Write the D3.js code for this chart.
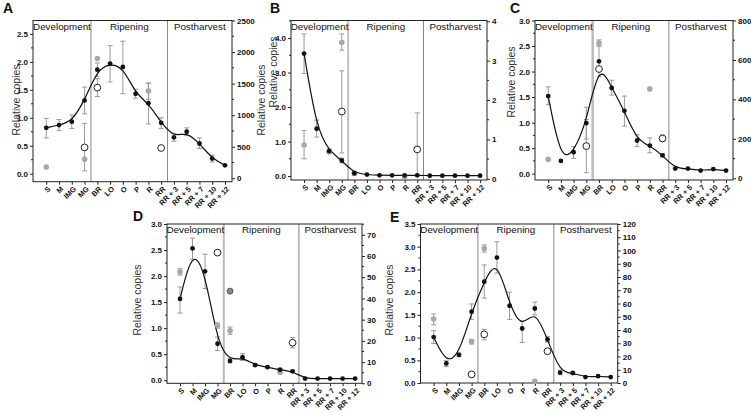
<!DOCTYPE html>
<html><head><meta charset="utf-8">
<script src="https://cdn.jsdelivr.net/npm/d3@7"></script>
<style>body{margin:0;background:#fff}svg{display:block}text{font-family:"Liberation Sans",Arial,sans-serif}</style>
</head><body><svg id="c" width="751" height="413"></svg>
<script>
const _ = null;
const categories = ["S","M","IMG","MG","BR","LO","O","P","R","RR","RR + 3","RR + 5","RR + 7","RR + 10","RR + 12"];
const sections = ["Development","Ripening","Postharvest"];

// Panel A
const aBlack   = [0.82,0.87,0.93,1.31,1.86,1.97,1.91,1.43,1.26,0.91,0.65,0.75,0.54,0.27,0.15];
const aBlackLo = [0.64,0.77,0.81,1.07,1.74,1.64,1.43,1.35,0.89,0.81,0.58,0.68,0.45,0.21,_];
const aBlackHi = [0.99,0.97,1.05,1.55,1.98,2.29,2.37,1.51,1.62,1.00,0.72,0.82,0.64,0.33,_];
const aGray    = [0.12,_,_,0.26,2.06,_,_,_,1.48,_,_,_,_,_,_];
const aGrayLo  = [_,_,_,_,_,_,_,_,1.33,_,_,_,_,_,_];
const aGrayHi  = [_,_,_,_,_,_,_,_,1.62,_,_,_,_,_,_];
const aOpen    = [_,_,_,0.47,1.54,_,_,_,_,0.46,_,_,_,_,_];
const aOpenLo  = [_,_,_,0.05,1.38,_,_,_,_,_,_,_,_,_,_];
const aOpenHi  = [_,_,_,0.90,1.70,_,_,_,_,_,_,_,_,_,_];

// Panel B
const bBlack   = [3.55,1.37,0.72,0.45,0.08,0.04,0.02,0.02,0.02,0.02,0.01,0.01,0.01,0.01,0.01];
const bBlackLo = [2.97,1.13,0.66,0.38,_,_,_,_,_,_,_,_,_,_,_];
const bBlackHi = [4.12,1.62,0.78,0.52,_,_,_,_,_,_,_,_,_,_,_];
const bGray    = [0.90,_,0.70,3.87,0.08,_,_,_,-0.02,_,_,_,_,_,_];
const bGrayLo  = [0.50,_,_,3.65,0.02,_,_,_,-0.07,_,_,_,_,_,_];
const bGrayHi  = [1.32,_,_,4.12,0.14,_,_,_,0.03,_,_,_,_,_,_];
const bOpen    = [_,_,_,1.87,_,_,_,_,_,0.77,_,_,_,_,_];
const bOpenLo  = [_,_,_,0.67,_,_,_,_,_,0.00,_,_,_,_,_];
const bOpenHi  = [_,_,_,3.05,_,_,_,_,_,1.83,_,_,_,_,_];

// Panel C
const cBlack   = [1.52,0.25,0.42,0.99,2.20,1.68,1.23,0.65,0.55,0.36,0.10,0.10,0.06,0.09,0.06];
const cBlackLo = [1.35,_,0.30,0.68,1.90,1.54,0.93,0.53,0.41,0.33,_,_,_,_,_];
const cBlackHi = [1.70,_,0.53,1.30,2.50,1.83,1.52,0.76,0.70,0.39,_,_,_,_,_];
const cGray    = [0.28,_,_,_,2.56,_,_,_,1.66,_,_,_,_,_,_];
const cGrayLo  = [_,_,_,_,2.50,_,_,_,_,_,_,_,_,_,_];
const cGrayHi  = [_,_,_,_,2.62,_,_,_,_,_,_,_,_,_,_];
const cOpen    = [_,_,_,0.54,2.05,_,_,_,_,0.69,_,_,_,_,_];
const cOpenLo  = [_,_,_,0.02,_,_,_,_,_,0.63,_,_,_,_,_];
const cOpenHi  = [_,_,_,1.06,_,_,_,_,_,0.76,_,_,_,_,_];

// Panel D
const dBlack   = [1.56,2.53,2.09,0.70,0.37,0.44,0.29,0.25,0.20,0.17,0.03,0.03,0.03,0.03,0.03];
const dBlackLo = [1.29,2.32,1.76,0.57,0.33,0.38,0.26,0.23,0.18,0.15,_,_,_,_,_];
const dBlackHi = [1.79,2.73,2.42,0.83,0.41,0.51,0.32,0.27,0.22,0.19,_,_,_,_,_];
const dGray    = [2.08,_,_,1.05,0.95,_,_,_,0.15,_,_,_,_,_,_];
const dGrayLo  = [2.02,_,_,1.00,0.88,_,_,_,0.12,_,_,_,_,_,_];
const dGrayHi  = [2.14,_,_,1.10,1.02,_,_,_,0.18,_,_,_,_,_,_];
const dDark    = [_,_,_,_,1.71,_,_,_,_,_,_,_,_,_,_];
const dOpen    = [_,_,_,2.45,_,_,_,_,_,0.72,_,_,_,_,_];
const dOpenLo  = [_,_,_,_,_,_,_,_,_,0.62,_,_,_,_,_];
const dOpenHi  = [_,_,_,_,_,_,_,_,_,0.82,_,_,_,_,_];

// Panel E
const eBlack   = [1.01,0.43,0.62,1.57,2.23,2.76,1.70,1.20,1.64,0.96,0.23,0.22,0.13,0.15,0.13];
const eBlackLo = [0.87,0.36,0.58,1.40,1.87,2.42,1.40,0.89,1.50,0.90,0.18,0.19,_,_,_];
const eBlackHi = [1.15,0.49,0.66,1.74,2.60,3.11,2.00,1.36,1.78,1.02,0.28,0.25,_,_,_];
const eGray    = [1.41,_,_,0.91,2.96,_,_,_,0.04,_,_,_,_,_,_];
const eGrayLo  = [1.28,_,_,0.86,2.88,_,_,_,_,_,_,_,_,_,_];
const eGrayHi  = [1.52,_,_,0.96,3.04,_,_,_,_,_,_,_,_,_,_];
const eOpen    = [_,_,_,0.19,1.07,_,_,_,_,0.70,_,_,_,_,_];
const eOpenLo  = [_,_,_,_,0.95,_,_,_,_,_,_,_,_,_,_];
const eOpenHi  = [_,_,_,_,1.18,_,_,_,_,_,_,_,_,_,_];

// tick definitions
const aLeftTicks = [0,0.5,1,1.5,2,2.5], aRightTicks = [0,500,1000,1500,2000,2500];
const bLeftTicks = [0,1,2,3,4], bRightTicks = [0,1,2,3,4];
const cLeftTicks = [0,0.5,1,1.5,2,2.5,3], cRightTicks = [0,200,400,600,800];
const dLeftTicks = [0,0.5,1,1.5,2,2.5,3], dRightTicks = [0,10,20,30,40,50,60,70];
const eLeftTicks = [0,0.5,1,1.5,2,2.5,3,3.5], eRightTicks = [0,10,20,30,40,50,60,70,80,90,100,110,120];

const panels = [
  {key:"A", black:aBlack, bLo:aBlackLo, bHi:aBlackHi, gray:aGray, gLo:aGrayLo, gHi:aGrayHi, open:aOpen, oLo:aOpenLo, oHi:aOpenHi,
   lt:aLeftTicks, rt:aRightTicks, lMinor:0.25, rMinor:250, lfmt:".1f", rfmt:"d",
   box:{l:33,r:232,t:20.5,b:181.7}, yL:[-0.143,2.74], yR:[-54,2500], div:{w:1,c:"#888",w1:1,c1:"#888"},
   letter:[3,13], titles:[[16,100],[261,100]]},
  {key:"B", black:bBlack, bLo:bBlackLo, bHi:bBlackHi, gray:bGray, gLo:bGrayLo, gHi:bGrayHi, open:bOpen, oLo:bOpenLo, oHi:bOpenHi,
   lt:bLeftTicks, rt:bRightTicks, lMinor:0.5, rMinor:0.5, lfmt:".1f", rfmt:"d",
   box:{l:291,r:487,t:20.5,b:180}, yL:[-0.116,4.51], yR:[-0.03,4.02], div:{w:1,c:"#888",w1:1,c1:"#888"},
   letter:[270,13], titles:[[273,72]]},
  {key:"C", black:cBlack, bLo:cBlackLo, bHi:cBlackHi, gray:cGray, gLo:cGrayLo, gHi:cGrayHi, open:cOpen, oLo:cOpenLo, oHi:cOpenHi,
   lt:cLeftTicks, rt:cRightTicks, lMinor:0.25, rMinor:100, lfmt:".1f", rfmt:"d",
   box:{l:535,r:733,t:20.5,b:180}, yL:[-0.124,3.0], yR:[-8.6,800], div:{w:2.5,c:"#bbb",w1:1,c1:"#888"},
   letter:[510,13], titles:[[511,82]]},
  {key:"D", black:dBlack, bLo:dBlackLo, bHi:dBlackHi, gray:dGray, gLo:dGrayLo, gHi:dGrayHi, open:dOpen, oLo:dOpenLo, oHi:dOpenHi, dark:dDark,
   lt:dLeftTicks, rt:dRightTicks, lMinor:0.25, rMinor:5, lfmt:".1f", rfmt:"d",
   box:{l:167,r:362,t:224,b:383.3}, yL:[-0.06,3.0], yR:[0,75.1], div:{w:2,c:"#bbb",w1:2,c1:"#bbb"},
   letter:[133,221], titles:[[137,300]]},
  {key:"E", black:eBlack, bLo:eBlackLo, bHi:eBlackHi, gray:eGray, gLo:eGrayLo, gHi:eGrayHi, open:eOpen, oLo:eOpenLo, oHi:eOpenHi,
   lt:eLeftTicks, rt:eRightTicks, lMinor:0.25, rMinor:5, lfmt:".1f", rfmt:"d",
   box:{l:420.5,r:617.7,t:224,b:383}, yL:[0,3.5], yR:[0,120], div:{w:1,c:"#888",w1:1,c1:"#888"},
   letter:[390,222], titles:[[389,300]]}
];

const svg = d3.select("#c");
const idx = d3.range(categories.length);

function drawPanel(p){
  const B = p.box;
  const g = svg.append("g");
  const x = d3.scaleLinear().domain([-1.04,14.55]).range([B.l,B.r]);
  const yL = d3.scaleLinear().domain(p.yL).range([B.b,B.t]);
  const yR = d3.scaleLinear().domain(p.yR).range([B.b,B.t]);

  [[3.5,p.div.w,p.div.c],[9.5,p.div.w1,p.div.c1]].forEach(([v,w,c])=>{
    g.append("line").attr("x1",x(v)).attr("x2",x(v)).attr("y1",B.t).attr("y2",B.b)
     .attr("stroke",c).attr("stroke-width",w);
  });
  const bounds = [-1.04,3.5,9.5,14.55];
  sections.forEach((s,i)=>{
    g.append("text").attr("x",(x(bounds[i])+x(bounds[i+1]))/2).attr("y",B.t+9)
     .attr("text-anchor","middle").attr("font-size",9.8).attr("fill","#111").text(s);
  });

  g.append("rect").attr("x",B.l).attr("y",B.t).attr("width",B.r-B.l).attr("height",B.b-B.t)
   .attr("fill","none").attr("stroke","#222").attr("stroke-width",1);

  const lMinorTicks = d3.range(p.yL[0]<0?0:p.yL[0], p.yL[1]+1e-9, p.lMinor).filter(v=>!p.lt.some(t=>Math.abs(t-v)<1e-6) && v<=p.yL[1]);
  const la = d3.axisLeft(yL).tickValues(p.lt).tickFormat(d3.format(p.lfmt)).tickSize(3).tickPadding(2);
  const lg = g.append("g").attr("transform",`translate(${B.l},0)`).call(la);
  lMinorTicks.forEach(v=>lg.append("line").attr("x1",-2).attr("x2",0).attr("y1",yL(v)).attr("y2",yL(v)).attr("stroke","#222"));
  const rMinorTicks = d3.range(0, p.yR[1]+1e-9, p.rMinor).filter(v=>!p.rt.some(t=>Math.abs(t-v)<1e-6));
  const ra = d3.axisRight(yR).tickValues(p.rt).tickFormat(d3.format(p.rfmt)).tickSize(3).tickPadding(2);
  const rg = g.append("g").attr("transform",`translate(${B.r},0)`).call(ra);
  rMinorTicks.forEach(v=>rg.append("line").attr("x1",0).attr("x2",2).attr("y1",yR(v)).attr("y2",yR(v)).attr("stroke","#222"));
  const ba = d3.axisBottom(x).tickValues(idx).tickFormat(()=>"").tickSize(3);
  const bg = g.append("g").attr("transform",`translate(0,${B.b})`).call(ba);
  [lg,rg,bg].forEach(a=>{a.select(".domain").remove(); a.selectAll("line").attr("stroke","#222");
    a.selectAll("text").attr("font-size",8).attr("font-weight","bold").attr("fill","#111")
     .attr("font-family","'Liberation Sans',Arial,sans-serif");});
  idx.forEach(i=>{
    g.append("text").attr("transform",`translate(${x(i)+1},${B.b+4}) rotate(-45)`).attr("dy","0.72em")
     .attr("text-anchor","end").attr("font-size",7.4).attr("font-weight","bold").attr("fill","#111").text(categories[i]);
  });

  function errs(lo,hi){
    idx.forEach(i=>{
      if(lo[i]==null || hi[i]==null) return;
      const xi=x(i), y1=yL(lo[i]), y2=yL(hi[i]);
      g.append("line").attr("x1",xi).attr("x2",xi).attr("y1",y1).attr("y2",y2).attr("stroke","#999").attr("stroke-width",1);
      [y1,y2].forEach(yy=>g.append("line").attr("x1",xi-2.5).attr("x2",xi+2.5).attr("y1",yy).attr("y2",yy).attr("stroke","#999").attr("stroke-width",1));
    });
  }
  errs(p.gLo,p.gHi); errs(p.oLo,p.oHi); errs(p.bLo,p.bHi);

  const line = d3.line().x((d,i)=>x(i)).y(d=>yL(d)).curve(d3.curveBasis);
  g.append("path").attr("d",line(p.black)).attr("fill","none").attr("stroke","#111").attr("stroke-width",1.2);

  idx.filter(i=>p.gray[i]!=null).forEach(i=>g.append("circle").attr("cx",x(i)).attr("cy",yL(p.gray[i])).attr("r",2.8).attr("fill","#a8a8a8"));
  if(p.dark) idx.filter(i=>p.dark[i]!=null).forEach(i=>g.append("circle").attr("cx",x(i)).attr("cy",yL(p.dark[i])).attr("r",3).attr("fill","#888").attr("stroke","#444").attr("stroke-width",0.8));
  idx.filter(i=>p.open[i]!=null).forEach(i=>g.append("circle").attr("cx",x(i)).attr("cy",yL(p.open[i])).attr("r",3.4).attr("fill","#fff").attr("stroke","#222").attr("stroke-width",1));
  idx.forEach(i=>g.append("circle").attr("cx",x(i)).attr("cy",yL(p.black[i])).attr("r",2.4).attr("fill","#111"));

  svg.append("text").attr("x",p.letter[0]).attr("y",p.letter[1]).attr("font-size",14).attr("font-weight","bold").attr("fill","#111").text(p.key);
  p.titles.forEach(([tx,ty])=>{
    svg.append("text").attr("transform",`translate(${tx},${ty}) rotate(-90)`).attr("dy","0.35em")
      .attr("text-anchor","middle").attr("font-size",10.5).attr("fill","#333").text("Relative copies");
  });
}
panels.forEach(drawPanel);
</script></body></html>
